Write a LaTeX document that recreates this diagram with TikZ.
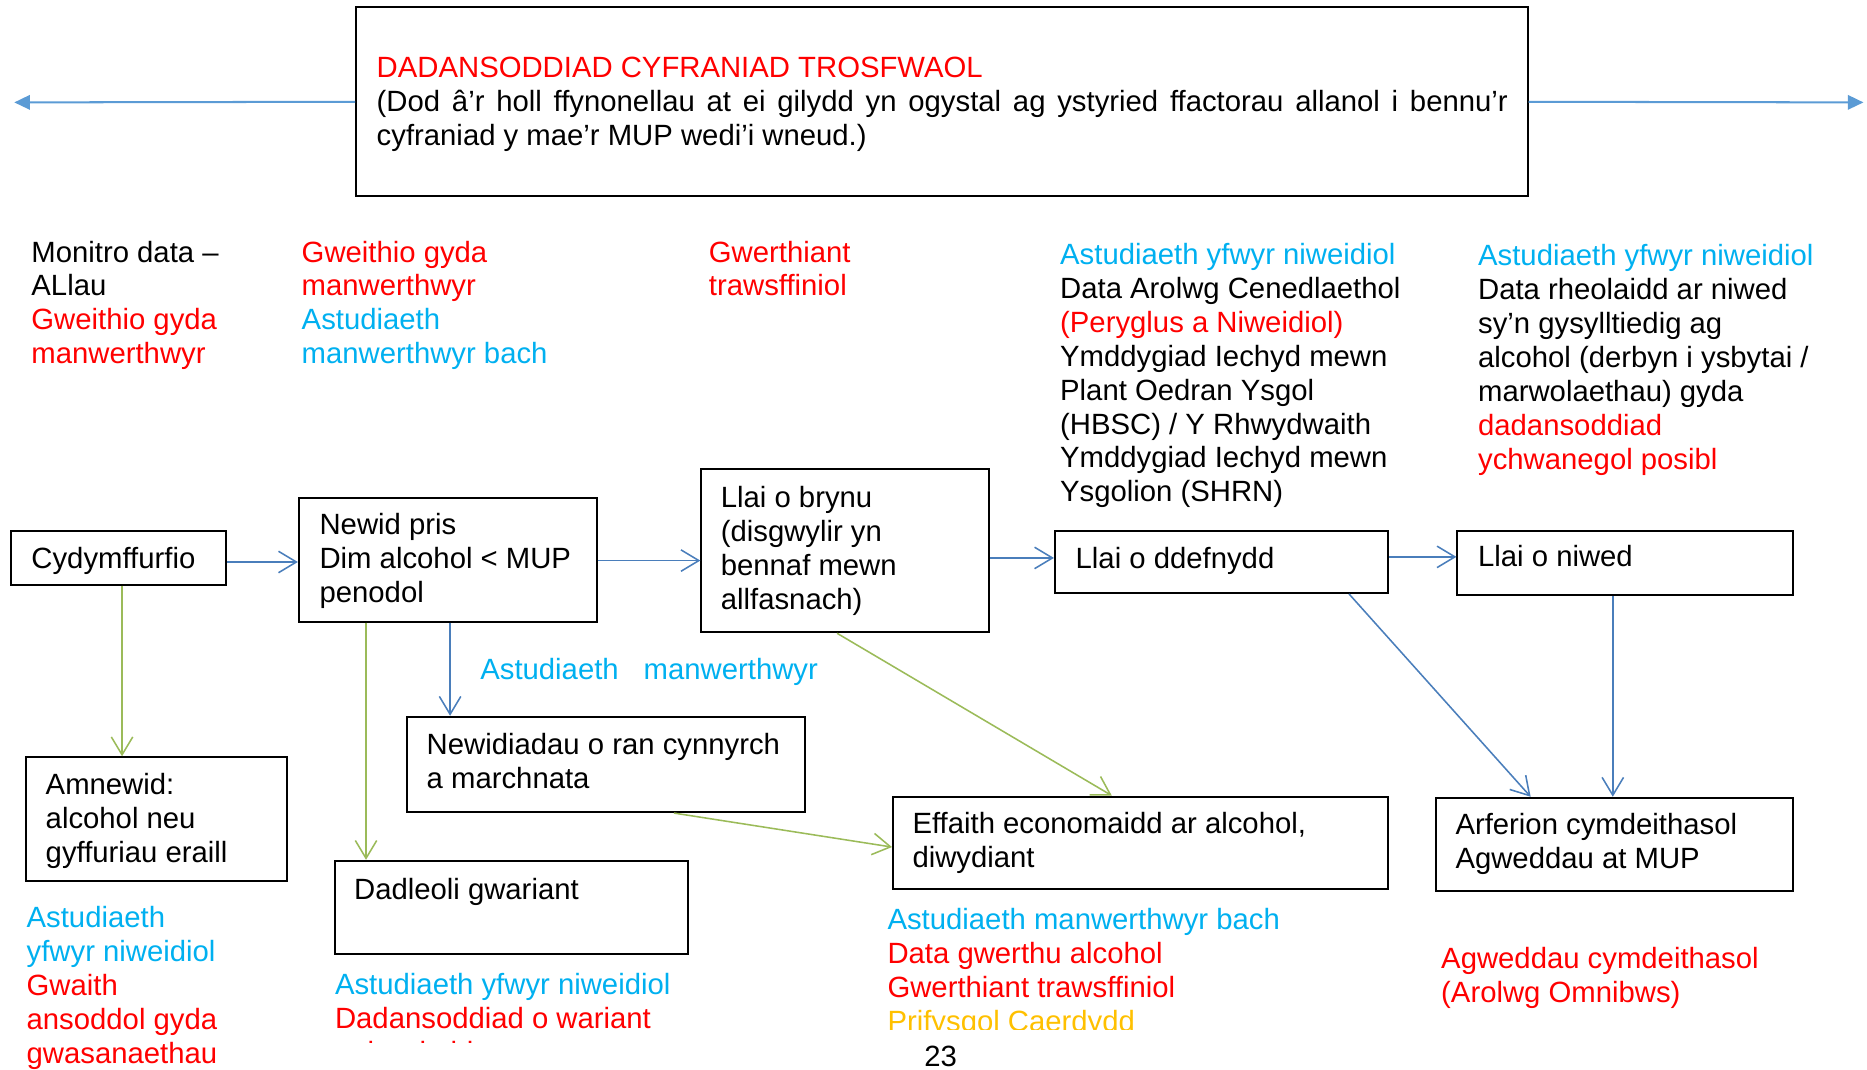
\documentclass[tikz,border=0pt]{standalone}
\usepackage{fontspec}
\setmainfont{Liberation Sans}
\usetikzlibrary{arrows.meta}
\definecolor{cred}{HTML}{FF0000}
\definecolor{ccyan}{HTML}{00B0F0}
\definecolor{cyel}{HTML}{FFC000}
\definecolor{cblue}{HTML}{4A7EBB}
\definecolor{clblue}{HTML}{5B9BD5}
\definecolor{cgreen}{HTML}{9BBB59}
\newcommand\myfs{\fontsize{12.3}{14.25}\selectfont}
\newcommand\rd[1]{\textcolor{cred}{#1}}
\newcommand\cy[1]{\textcolor{ccyan}{#1}}
\begin{document}
\begin{tikzpicture}[x=0.5pt,y=-0.5pt,
  bx/.style={draw=black, line width=0.85pt, inner sep=0pt},
  txt/.style={anchor=north west, inner sep=0pt, align=left, font=\myfs, yshift=0.5pt},
  barr/.style={draw=cblue, line width=0.65pt, -{Straight Barb[length=7.5pt,width=9pt]}},
  garr/.style={draw=cgreen, line width=0.65pt, -{Straight Barb[length=7.5pt,width=9pt]}},
  tarr/.style={draw=clblue, line width=0.85pt, -{Triangle[length=6.5pt,width=6pt]}}
]
\useasboundingbox (0,0) rectangle (1568,898);

% boxes
\node[bx, minimum width=492pt, minimum height=79.5pt] (top) at (791,85.5) {};
\node[bx, minimum width=90.5pt, minimum height=22.5pt] (cyd) at (99.5,468.5) {};
\node[bx, minimum width=125pt, minimum height=52pt] (pris) at (376,470) {};
\node[bx, minimum width=121pt, minimum height=68.5pt] (prynu) at (710,462.5) {};
\node[bx, minimum width=140pt, minimum height=26pt] (ddef) at (1026,472) {};
\node[bx, minimum width=141pt, minimum height=27pt] (niwed) at (1365,473) {};
\node[bx, minimum width=109.5pt, minimum height=52pt] (amn) at (131.5,688) {};
\node[bx, minimum width=167pt, minimum height=40pt] (newd) at (509,642) {};
\node[bx, minimum width=148.5pt, minimum height=39pt] (dadl) at (429.5,762) {};
\node[bx, minimum width=208pt, minimum height=39pt] (eff) at (958,708) {};
\node[bx, minimum width=150pt, minimum height=39pt] (arf) at (1356,709) {};

% box texts
\node[txt] (topt) at (316,45.7) {\strut\rd{DADANSODDIAD CYFRANIAD TROSFWAOL}\\
  \makebox[475pt][s]{(Dod â’r holl ffynonellau at ei gilydd yn ogystal ag ystyried ffactorau allanol i bennu’r}\\
  cyfraniad y mae’r MUP wedi’i wneud.)};
\node[txt] (cydt) at (26,457.7) {\strut Cydymffurfio};
\node[txt] (prist) at (268,429.7) {\strut Newid pris\\Dim alcohol < MUP\\penodol};
\node[txt] (prynut) at (605,406.7) {\strut Llai o brynu\\(disgwylir yn\\bennaf mewn\\allfasnach)};
\node[txt] (ddeft) at (903,457.7) {\strut Llai o ddefnydd};
\node[txt] (niwedt) at (1241,456.7) {\strut Llai o niwed};
\node[txt] (amnt) at (38,647.7) {\strut Amnewid:\\alcohol neu\\gyffuriau eraill};
\node[txt] (newdt) at (358,614.7) {\strut Newidiadau o ran cynnyrch\\a marchnata};
\node[txt] (dadlt) at (297,735.7) {\strut Dadleoli gwariant};
\node[txt] (efft) at (766,680.7) {\strut Effaith economaidd ar alcohol,\\diwydiant};
\node[txt] (arft) at (1222,681.7) {\strut Arferion cymdeithasol\\Agweddau at MUP};

% column texts above
\node[txt] (c1) at (26,200.7) {\strut Monitro data –\\ALlau\\\rd{Gweithio gyda}\\\rd{manwerthwyr}};
\node[txt] (c2) at (253,200.7) {\strut\rd{Gweithio gyda}\\\rd{manwerthwyr}\\\cy{Astudiaeth}\\\cy{manwerthwyr bach}};
\node[txt] (c3) at (595,200.7) {\strut\rd{Gwerthiant}\\\rd{trawsffiniol}};
\node[txt] (c4) at (890,202.7) {\strut\cy{Astudiaeth yfwyr niweidiol}\\Data Arolwg Cenedlaethol\\\rd{(Peryglus a Niweidiol)}\\Ymddygiad Iechyd mewn\\Plant Oedran Ysgol\\(HBSC) / Y Rhwydwaith\\Ymddygiad Iechyd mewn\\Ysgolion (SHRN)};
\node[txt] (c5) at (1241,203.7) {\strut\cy{Astudiaeth yfwyr niweidiol}\\Data rheolaidd ar niwed\\sy’n gysylltiedig ag\\alcohol (derbyn i ysbytai /\\marwolaethau) gyda\\\rd{dadansoddiad}\\\rd{ychwanegol posibl}};

% middle label
\node[txt] (mid) at (403,551.7) {\strut\cy{Astudiaeth\hspace*{10.5pt}manwerthwyr}};

% texts below
\node[txt] (b1) at (22,759.7) {\strut\cy{Astudiaeth}\\\cy{yfwyr niweidiol}\\\rd{Gwaith}\\\rd{ansoddol gyda}\\\rd{gwasanaethau}};
\begin{scope}
  \clip (0,0) rectangle (1568,875.5);
  \node[txt] (b2) at (281,815.7) {\strut\cy{Astudiaeth yfwyr niweidiol}\\\rd{Dadansoddiad o wariant}\\\rd{aelwydydd}};
\end{scope}
\begin{scope}
  \clip (0,0) rectangle (1568,864.5);
  \node[txt] (b3) at (745,761.7) {\strut\cy{Astudiaeth manwerthwyr bach}\\\rd{Data gwerthu alcohol}\\\rd{Gwerthiant trawsffiniol}\\\textcolor{cyel}{Prifysgol Caerdydd}};
\end{scope}
\node[txt] (b4) at (1210,793.7) {\strut\rd{Agweddau cymdeithasol}\\\rd{(Arolwg Omnibws)}};
\node[font=\myfs, inner sep=0pt] (pg) at (790,887) {23};

% connectors
\coordinate (lend) at (12,86);
\coordinate (rend) at (1565,86);
\draw[tarr] (top.west) -- (lend);
\draw[tarr] (top.east) -- (rend);
\draw[barr] (cyd.east |- 0,472) -- (pris.west |- 0,472);
\draw[barr] (pris.east |- 0,470.8) -- (prynu.west |- 0,470.8);
\draw[barr] (prynu.east |- 0,468.6) -- (ddef.west |- 0,468.6);
\draw[barr] (ddef.east |- 0,467.7) -- (niwed.west |- 0,467.7);
\draw[garr] (cyd.south -| 102.5,0) -- (amn.north -| 102.5,0);
\draw[garr] (pris.south -| 307.4,0) -- (dadl.north -| 307.4,0);
\draw[barr] (pris.south -| 378,0) -- (newd.north -| 378,0);
\draw[garr] (prynu.south -| 703,0) -- (eff.north -| 933.7,0);
\draw[garr] (newd.south -| 566,0) -- (eff.west |- 0,711.4);
\draw[barr] (ddef.south -| 1133,0) -- (arf.north -| 1285.5,0);
\draw[barr] (niwed.south -| 1354.5,0) -- (arf.north -| 1354.5,0);
\end{tikzpicture}
\end{document}
